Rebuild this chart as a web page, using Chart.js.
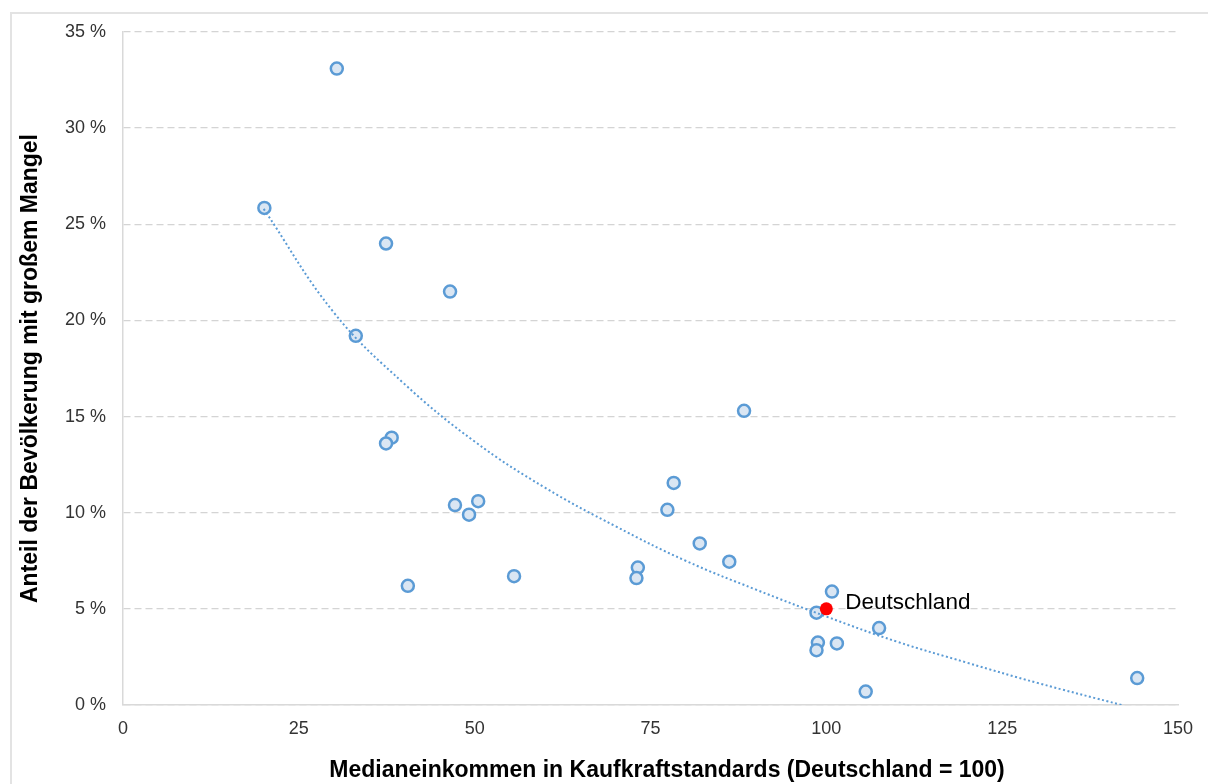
<!DOCTYPE html>
<html>
<head>
<meta charset="utf-8">
<script src="https://cdn.jsdelivr.net/npm/chart.js@4"></script>
<style>
  html, body { margin: 0; padding: 0; background: #fff; overflow: hidden; }
  #frame { position: absolute; left: 10px; top: 12px; width: 1220px; height: 800px;
           border-left: 2px solid #e3e3e3; border-top: 2px solid #e3e3e3; }
  #wrap { position: absolute; left: 0; top: 0; width: 1208px; height: 784px; }
</style>
</head>
<body>
<div id="frame"></div>
<div id="wrap"><canvas id="myChart" width="1208" height="784"></canvas></div>
<script>
// Länder: Medianeinkommen (KKS, DE = 100) und Anteil mit großem Mangel (%)
const incomeX = [30.4, 20.1, 37.4, 46.5, 33.1, 38.2, 37.4, 47.2, 49.2, 50.5, 40.5, 55.6,
                 73.2, 73.0, 77.4, 78.3, 88.3, 82.0, 86.2, 100.8, 98.6, 107.5, 98.8, 101.5,
                 98.6, 105.6, 144.2];
const shareY  = [33.1, 25.85, 24.0, 21.5, 19.2, 13.9, 13.6, 10.4, 9.9, 10.6, 6.2, 6.7,
                 7.15, 6.6, 10.15, 11.55, 15.3, 8.4, 7.45, 5.9, 4.8, 4.0, 3.25, 3.2,
                 2.85, 0.7, 1.4];

const germanyX = [100];
const germanyY = [5.0];
const germanyLabel = "Deutschland";

// Trendlinie (logarithmisch)
const trendX = [20, 30, 40, 50, 60, 70, 80, 90, 100, 110, 120, 130, 142];
const trendY = [25.8, 20.4, 16.7, 13.7, 11.3, 9.3, 7.5, 6.0, 4.6, 3.3, 2.2, 1.15, 0];

const xTitle = "Medianeinkommen in Kaufkraftstandards (Deutschland = 100)";
const yTitle = "Anteil der Bevölkerung mit großem Mangel";

const toPoints = (xs, ys) => xs.map((x, i) => ({ x: x, y: ys[i] }));

const labelPlugin = {
  id: "labels",
  afterDatasetsDraw(chart) {
    const ctx = chart.ctx;
    const pt = chart.getDatasetMeta(0).data[0];
    ctx.save();
    ctx.fillStyle = "#000";
    ctx.font = "22.5px 'Liberation Sans', Arial, sans-serif";
    ctx.textAlign = "left";
    ctx.textBaseline = "middle";
    ctx.fillText(germanyLabel, pt.x + 19, pt.y - 6);

    ctx.font = "bold 23px 'Liberation Sans', Arial, sans-serif";
    ctx.textAlign = "center";
    ctx.fillText(xTitle, 667, 771);
    ctx.restore();
  }
};

const ctx = document.getElementById("myChart").getContext("2d");
new Chart(ctx, {
  type: "scatter",
  data: {
    datasets: [
      {
        data: toPoints(germanyX, germanyY),
        pointRadius: 6.5,
        pointBackgroundColor: "#ff0000",
        pointBorderColor: "#ff0000",
        pointBorderWidth: 0,
        order: 0
      },
      {
        data: toPoints(trendX, trendY),
        showLine: true,
        borderColor: "#5b9bd5",
        borderWidth: 2,
        borderDash: [2, 2.5],
        tension: 0.4,
        pointRadius: 0,
        order: 1
      },
      {
        data: toPoints(incomeX, shareY),
        pointRadius: 6,
        pointBackgroundColor: "#dae6f3",
        pointBorderColor: "#5b9bd5",
        pointBorderWidth: 2.5,
        order: 2
      }
    ]
  },
  options: {
    responsive: false,
    animation: false,
    layout: { padding: { top: 32, right: 30, left: 0, bottom: 0 } },
    plugins: { legend: { display: false }, tooltip: { enabled: false } },
    scales: {
      x: {
        min: 0,
        max: 150,
        ticks: {
          stepSize: 25,
          padding: 5,
          color: "#333",
          font: { family: "'Liberation Sans', Arial, sans-serif", size: 18 }
        },
        grid: { display: false },
        border: { display: true, color: "#d9d9d9", width: 1.5 },
        afterFit: (scale) => { scale.height = 79; }
      },
      y: {
        min: 0,
        max: 35,
        ticks: {
          stepSize: 5,
          padding: 17,
          color: "#333",
          font: { family: "'Liberation Sans', Arial, sans-serif", size: 18 },
          callback: (v) => v + " %"
        },
        grid: { color: "#d4d4d4", lineWidth: 1.3, drawTicks: false },
        border: { display: true, color: "#d9d9d9", width: 1.5, dash: [7, 4] },
        title: {
          display: true,
          text: yTitle,
          color: "#000",
          padding: { top: 17, bottom: 0 },
          font: { family: "'Liberation Sans', Arial, sans-serif", size: 23, weight: "bold" }
        },
        afterFit: (scale) => { scale.width = 123; }
      }
    }
  },
  plugins: [labelPlugin]
});
</script>
</body>
</html>
